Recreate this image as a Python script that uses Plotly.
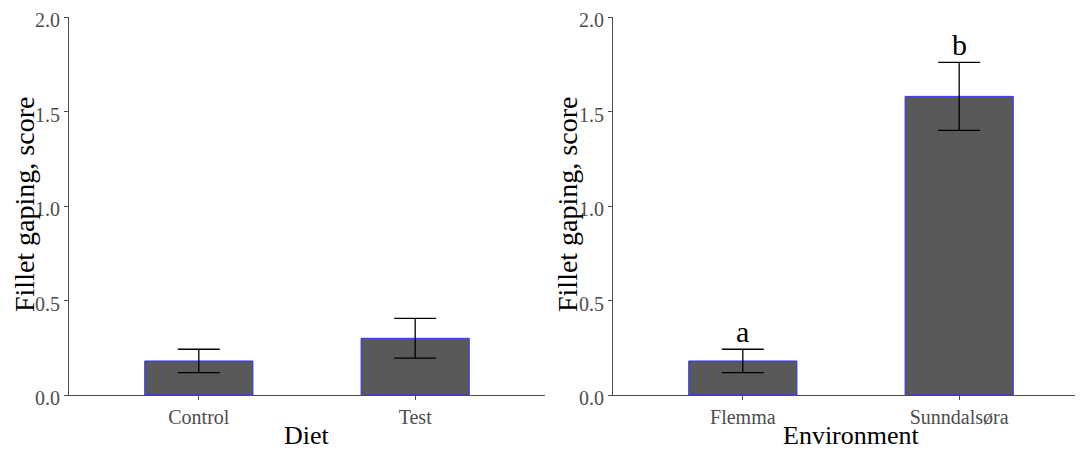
import plotly.graph_objects as go

diet_cats = ["Control", "Test"]
diet_mean = [0.18, 0.30]
diet_se = [0.062, 0.105]

env_cats = ["Flemma", "Sunndalsøra"]
env_mean = [0.18, 1.58]
env_se = [0.062, 0.18]
env_letters = ["a", "b"]

y_ticks = [0.0, 0.5, 1.0, 1.5, 2.0]
y_title = "Fillet gaping, score"

# page body has an 8px margin, so the figure is drawn 8px in from the top-left
OFF = 8
W, H = 1083 - OFF, 450 - OFF
FONT = "Liberation Serif"
BAR_FILL = "#595959"
BAR_LINE = "#3333ff"
AX = "#4d4d4d"

def px_x(sx):
    return (sx - OFF) / W

def px_y(sy):
    return 1 - (sy - OFF) / H

fig = go.Figure()

def add_bars(cats, mean, se, xa, ya):
    fig.add_trace(go.Bar(
        x=cats, y=mean, width=0.5,
        marker=dict(color=BAR_FILL, line=dict(color=BAR_LINE, width=1)),
        error_y=dict(type="data", array=se, visible=True, color="black", thickness=1.3, width=21),
        xaxis=xa, yaxis=ya, showlegend=False,
    ))

add_bars(diet_cats, diet_mean, diet_se, "x", "y")
add_bars(env_cats, env_mean, env_se, "x2", "y2")

for c, m, s, l in zip(env_cats, env_mean, env_se, env_letters):
    fig.add_annotation(x=c, y=m + s + 0.095, text=l, showarrow=False, xref="x2", yref="y2",
                       font=dict(family=FONT, size=30, color="black"), yanchor="middle")

ydom = [px_y(395), px_y(17)]
common_x = dict(type="category", showline=True, linecolor=AX, linewidth=1.2, ticks="outside",
                ticklen=4, tickcolor=AX, tickfont=dict(family=FONT, size=20, color=AX),
                showgrid=False, zeroline=False, fixedrange=True, automargin=False)
common_y = dict(range=[0, 2.0001], tickvals=y_ticks, ticktext=[f"{v:.1f}" for v in y_ticks],
                showline=True, linecolor=AX, linewidth=1.2, ticks="outside", ticklen=4,
                tickcolor=AX, tickfont=dict(family=FONT, size=20, color=AX),
                ticklabeloverflow="allow", ticklabelshift=3,
                showgrid=False, zeroline=False, domain=ydom, automargin=False)

fig.update_layout(
    width=W, height=H, margin=dict(l=0, r=0, t=0, b=0, autoexpand=False),
    plot_bgcolor="white", paper_bgcolor="white", bargap=0.5,
    xaxis=dict(common_x, domain=[px_x(69), px_x(545)], range=[-0.6, 1.6], anchor="y"),
    yaxis=dict(common_y, anchor="x"),
    xaxis2=dict(common_x, domain=[px_x(613), 1.0], range=[-0.6, 1.6 - 6 / 216.5], anchor="y2"),
    yaxis2=dict(common_y, anchor="x2"),
)

# axis titles (screen pixel positions)
for xp, yp, txt, ang, sz in [(24, 205, y_title, -90, 28), (567, 205, y_title, -90, 28),
                             (307, 435, "Diet", 0, 26), (851, 435, "Environment", 0, 26)]:
    fig.add_annotation(x=px_x(xp), y=px_y(yp), xref="paper", yref="paper", text=txt,
                       textangle=ang, showarrow=False, xanchor="center", yanchor="middle",
                       borderpad=0, font=dict(family=FONT, size=sz, color="black"))

fig.write_html("out.html")
